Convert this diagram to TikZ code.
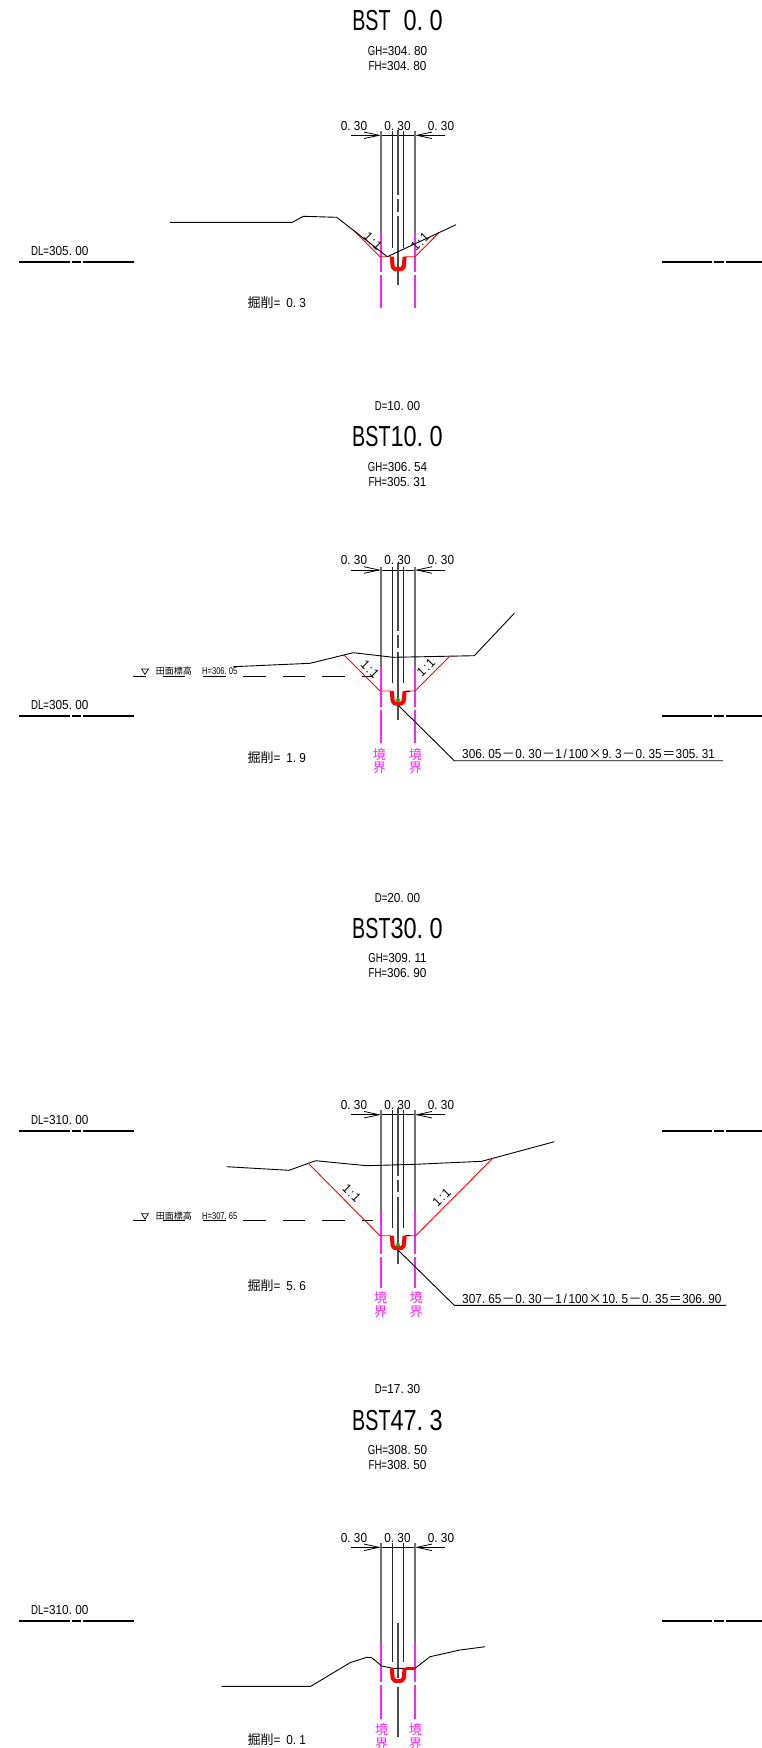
\documentclass[tikz,border=0pt]{standalone}
\usepackage{fontspec}
\usetikzlibrary{arrows.meta}
\newfontfamily\cadbd[FakeStretch=0.81]{Liberation Sans}
\newfontfamily\cadbl[FakeStretch=0.68]{Liberation Sans}
\newfontfamily\cadmd[FakeStretch=0.906]{Liberation Sans}
\newfontfamily\cadml[FakeStretch=0.74]{Liberation Sans}
\newfontfamily\cadtd[FakeStretch=0.77]{Liberation Sans}
\newfontfamily\cjkfont{Noto Sans CJK JP}
\definecolor{mag}{HTML}{FF22FF}
\definecolor{gline}{HTML}{707070}
\newcommand\dotB{.\kern6.5pt}
\newcommand\dotS{.\kern3.27pt}
\newcommand\dotT{.\kern2.1pt}
\newcommand\ttl[1]{{\cadbl BST}#1}
\newcommand\lab[2]{{\cadml #1}#2}
\newcommand\cj[1]{{\fontsize{13}{13}\selectfont\cjkfont #1}}
\newcommand\hi[1]{\cj{掘削}=\kern6pt#1}
\newcommand\oneone{1\kern1.6pt:\kern1.6pt1}
\newcommand\slashcell{\kern1.6pt/\kern1.6pt}
\newcommand\opcell[1]{\kern0.45pt\cj{#1}\kern0.45pt}
\tikzset{
  title/.style={inner sep=0pt,font=\fontsize{29}{29}\selectfont\cadbd},
  small/.style={inner sep=0pt,font=\fontsize{13}{13}\selectfont\cadmd},
  tiny/.style={inner sep=0pt,font=\fontsize{9.8}{10}\selectfont\cadtd},
  bound/.style={inner sep=0pt,text=mag,font=\fontsize{13}{13}\selectfont\cjkfont},
  thinl/.style={black,line width=0.9pt,line join=round},
  dimarrow/.style={black,line width=0.8pt,-{Straight Barb[length=15pt,width=6.5pt]}},
  dimmid/.style={black,line width=1pt},
  redthin/.style={red,line width=0.9pt,line join=round},
  redu/.style={red,line width=4pt,line join=round},
  guide/.style={gline,line width=1.7pt},
  inner/.style={black!85,line width=1pt},
  centre/.style={black!70,line width=1.7pt},
  bmag/.style={mag,line width=1.8pt},
  dl/.style={black,line width=2pt},
}
\newcommand\dimset[4]{
  \node[small] (#1a) at (354,#2) {0\dotS30};
  \node[small] (#1b) at (397.5,#2) {0\dotS30};
  \node[small] (#1c) at (441,#2) {0\dotS30};
  \coordinate (#1l) at (381,#3);
  \coordinate (#1r) at (415,#3);
  \draw[dimarrow] (350.7,#3) -- (#1l);
  \draw[dimarrow] (445.3,#3) -- (#1r);
  \draw[dimmid] (#1l) -- (#1r);
}
\newcommand\guides[5]{
  \draw[guide] (381,#1) -- (381,#2);
  \draw[guide] (415,#1) -- (415,#2);
  \draw[inner] (392.3,#1) -- (392.3,#5);
  \draw[inner] (403.7,#1) -- (403.7,#5);
  \foreach \gx in {381,415}{
    \draw[bmag] (\gx,#2) -- (\gx,{#3-1.5});
    \draw[bmag] (\gx,{#3+1.5}) -- (\gx,#4);
  }
}
\newcommand\centreline[5]{
  \draw[centre] (398,#1) -- (398,{#2-2});
  \draw[centre] (398,{#2+2}) -- (398,#3);
  \draw[centre] (398,#4) -- (398,#5);
}
\newcommand\dlline[3]{
  \node[small,anchor=west] (#1) at (31,{#2-11}) {#3};
  \draw[dl] (19,#2) -- (70,#2);
  \draw[dl] (72,#2) -- (81,#2);
  \draw[dl] (83,#2) -- (134,#2);
  \draw[dl] (662,#2) -- (712,#2);
  \draw[dl] (714,#2) -- (724,#2);
  \draw[dl] (726,#2) -- (762,#2);
}
\newcommand\wlevel[3]{
  \draw[black,line width=0.8pt] (133.3,#2) -- (146,#2);
  \draw[black,line width=0.7pt] (141.6,{#2-7}) -- (148.4,{#2-7}) -- (145,{#2-1.5}) -- cycle;
  \node[inner sep=0pt,anchor=west,font=\fontsize{9}{9}\selectfont\cjkfont] (#1t) at (155.7,{#2-4.5}) {田面標高};
  \draw[black,line width=0.7pt] (163,#2) -- (185,#2);
  \node[tiny,anchor=west] (#1h) at (202,{#2-4.5}) {#3};
  \draw[black,line width=0.7pt] (203,#2) -- (226,#2);
  \foreach \a/\b in {242.7/265.7,282.7/305.3,322.3/345,362/372.7}{
    \draw[black,line width=0.8pt] (\a,#2) -- (\b,#2);
  }
}
\newcommand\ushape[1]{
  \draw[redu] (391.8,#1) -- (392.6,{#1+10}) -- (394.8,{#1+12.5}) -- (401.5,{#1+12.5}) -- (403.7,{#1+10}) -- (404.6,#1);
}
\begin{document}
\begin{tikzpicture}[x=1pt,y=-1pt]
\useasboundingbox (0,0) rectangle (762,1748);
\fill[white] (0,0) rectangle (762,1748);

%% ---- BST 0.0
\node[title] (t1) at (397.5,21) {\ttl{\kern13pt 0\dotB0}};
\node[small] (g1) at (397.5,51) {\lab{GH=}{304\dotS80}};
\node[small] (f1) at (397.5,66) {\lab{FH=}{304\dotS80}};
\dimset{a}{126}{135.3}{131}
\guides{131}{233}{273}{308}{248}
\centreline{130}{197}{212}{216}{285}
\dlline{dla}{262}{\lab{DL=}{305\dotS00}}
\draw[redthin] (352.3,229) -- (380,256.7) -- (391,256.7);
\draw[redthin] (405,256.7) -- (415,256.7) -- (439.3,232.3);
\draw[thinl] (170,222.3) -- (292.3,222.3) -- (303.3,216.3) -- (336.7,217.3) -- (387.3,256.7) -- (456,224.7);
\ushape{256.7}
\node[small,rotate=-45] (s1l) at (373,241) {\oneone};
\node[small,rotate=45] (s1r) at (420,241.7) {\oneone};
\node[small,anchor=west] (k1) at (247.3,303) {\hi{0\dotS3}};

%% ---- BST10.0
\node[small] (d2) at (397.5,406) {\lab{D=}{10\dotS00}};
\node[title] (t2) at (397.5,436.7) {\ttl{10\dotB0}};
\node[small] (g2) at (397.5,467.3) {\lab{GH=}{306\dotS54}};
\node[small] (f2) at (397.5,482) {\lab{FH=}{305\dotS31}};
\dimset{b}{560}{570}{566.7}
\guides{566.7}{668.3}{708}{743.3}{683.3}
\centreline{563}{633}{648}{652}{720}
\dlline{dlb}{715.7}{\lab{DL=}{305\dotS00}}
\wlevel{wb}{676}{H=306\dotT05}
\draw[thinl] (233.3,666.7) -- (310,663.3) -- (353.3,652.7) -- (393.3,657.3) -- (474.3,655.7) -- (514.3,613.3);
\draw[redthin] (344,655) -- (380,691) -- (391,691);
\draw[redthin] (405,691) -- (415,691) -- (450,656);
\draw[thinl] (406,691) -- (409.5,691);
\ushape{691}
\fill[green!70!black] (398,700) circle (2);
\node[small,rotate=-45] (s2l) at (370,669) {\oneone};
\node[small,rotate=45] (s2r) at (426,667.5) {\oneone};
\node[small,anchor=west] (k2) at (247.3,757.3) {\hi{1\dotS9}};
\node[bound] (e2a) at (379.3,754.3) {境};
\node[bound] (e2b) at (379.3,767.3) {界};
\node[bound] (e2c) at (415.3,754.3) {境};
\node[bound] (e2d) at (415.3,767.3) {界};
\coordinate (lb0) at (398,705);
\coordinate (lb1) at (454.3,760.7);
\coordinate (lb2) at (723,760.7);
\draw[thinl] (lb0) -- (lb1) -- (lb2);
\node[small,anchor=west] (n2) at (462,754) {306\dotS05\opcell{－}0\dotS30\opcell{－}1\slashcell100\opcell{×}9\dotS3\opcell{－}0\dotS35\opcell{＝}305\dotS31};

%% ---- BST30.0
\node[small] (d3) at (397.5,897.7) {\lab{D=}{20\dotS00}};
\node[title] (t3) at (397.5,929) {\ttl{30\dotB0}};
\node[small] (g3) at (397.5,958.3) {\lab{GH=}{309\dotS11}};
\node[small] (f3) at (397.5,973.3) {\lab{FH=}{306\dotS90}};
\dimset{c}{1105}{1114.7}{1110}
\guides{1110}{1211.7}{1255}{1288.3}{1228.3}
\centreline{1108.3}{1178.3}{1192}{1197}{1264.3}
\dlline{dlc}{1131.3}{\lab{DL=}{310\dotS00}}
\wlevel{wc}{1220.7}{H=307\dotT65}
\draw[thinl] (226.7,1166.7) -- (289,1170.3) -- (315.7,1160.7) -- (366.7,1165.7) -- (415,1164.3) -- (481.7,1161.3) -- (554.3,1141.7);
\draw[redthin] (308.3,1163.3) -- (380,1235.7) -- (391,1235.7);
\draw[redthin] (405,1235.7) -- (415.7,1235.7) -- (492.3,1158.7);
\draw[thinl] (406,1235.7) -- (410,1235.7);
\ushape{1235.7}
\fill[green!70!black] (398,1245) circle (2);
\node[small,rotate=-45] (s3l) at (351.7,1193.3) {\oneone};
\node[small,rotate=45] (s3r) at (441.7,1197.3) {\oneone};
\node[small,anchor=west] (k3) at (247.3,1286) {\hi{5\dotS6}};
\node[bound] (e3a) at (380.7,1298) {境};
\node[bound] (e3b) at (380.7,1311.7) {界};
\node[bound] (e3c) at (416,1298) {境};
\node[bound] (e3d) at (416,1311.7) {界};
\coordinate (lc0) at (398,1250);
\coordinate (lc1) at (454.3,1305.3);
\coordinate (lc2) at (726,1305.3);
\draw[thinl] (lc0) -- (lc1) -- (lc2);
\node[small,anchor=west] (n3) at (462,1299.3) {307\dotS65\opcell{－}0\dotS30\opcell{－}1\slashcell100\opcell{×}10\dotS5\opcell{－}0\dotS35\opcell{＝}306\dotS90};

%% ---- BST47.3
\node[small] (d4) at (397.5,1389.3) {\lab{D=}{17\dotS30}};
\node[title] (t4) at (397.5,1420) {\ttl{47\dotB3}};
\node[small] (g4) at (397.5,1450) {\lab{GH=}{308\dotS50}};
\node[small] (f4) at (397.5,1465) {\lab{FH=}{308\dotS50}};
\dimset{e}{1538.3}{1547.3}{1543.3}
\guides{1543.3}{1643.3}{1683}{1719.3}{1661.7}
\draw[centre] (398,1622.7) -- (398,1678);
\draw[centre] (398,1686.7) -- (398,1736.7);
\dlline{dle}{1621}{\lab{DL=}{310\dotS00}}
\draw[thinl] (221.7,1686.3) -- (310.7,1686.3) -- (350,1662.7) -- (366.7,1657.3) -- (371.7,1657.7) -- (381.7,1666) -- (393.3,1668.3) -- (415,1668.3) -- (430,1656.7) -- (460,1650) -- (485,1646.7);
\ushape{1668.3}
\draw[red,line width=2.6pt] (405.6,1668.3) -- (415,1668.3);
\node[small,anchor=west] (k4) at (247.3,1739.3) {\hi{0\dotS1}};
\node[bound] (e4a) at (381.7,1730) {境};
\node[bound] (e4b) at (381.7,1743.3) {界};
\node[bound] (e4c) at (415.3,1730) {境};
\node[bound] (e4d) at (415.3,1743.3) {界};
\end{tikzpicture}
\end{document}
